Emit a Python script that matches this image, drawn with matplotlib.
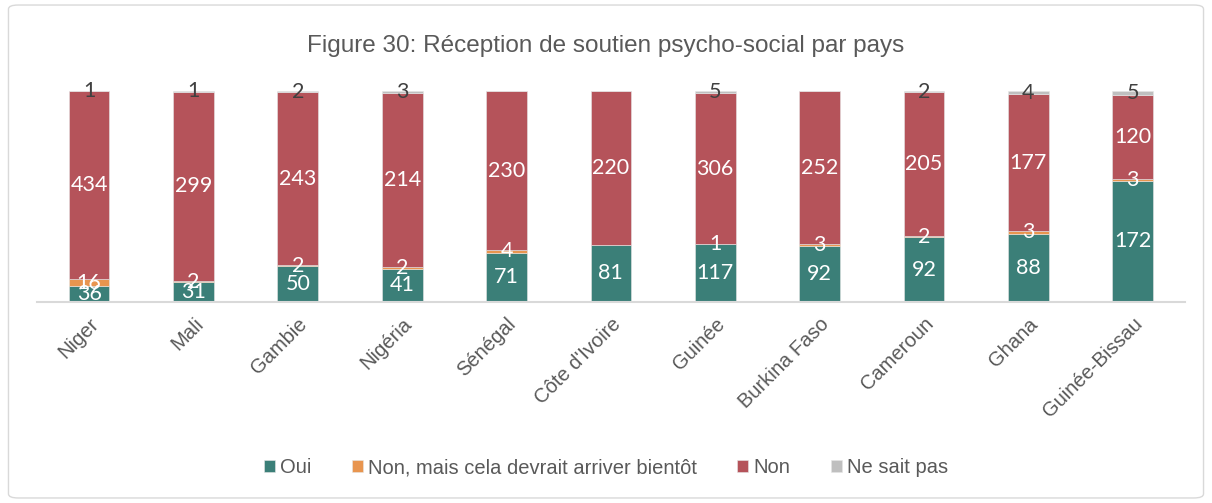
import numpy as np
import matplotlib.pyplot as plt
from matplotlib.patches import FancyBboxPatch

pays = ["Niger", "Mali", "Gambie", "Nigéria", "Sénégal", "Côte d'Ivoire",
        "Guinée", "Burkina Faso", "Cameroun", "Ghana", "Guinée-Bissau"]
oui = [36, 31, 50, 41, 71, 81, 117, 92, 92, 88, 172]
bientot = [16, 2, 2, 2, 4, 0, 1, 3, 2, 3, 3]
non = [434, 299, 243, 214, 230, 220, 306, 252, 205, 177, 120]
nsp = [1, 1, 2, 3, 0, 0, 5, 0, 2, 4, 5]

series = [("Oui", oui, "#3b7f78", "white"),
          ("Non, mais cela devrait arriver bientôt", bientot, "#e8954f", "white"),
          ("Non", non, "#b5535a", "white"),
          ("Ne sait pas", nsp, "#bfbfbf", "#404040")]

total = np.array(oui) + np.array(bientot) + np.array(non) + np.array(nsp)
x = np.arange(len(pays))

fig = plt.figure(figsize=(12.12, 5.03), dpi=100)
ax = fig.add_axes([0.0305, 0.400, 0.947, 0.419])

fig.patches.append(FancyBboxPatch((0.007, 0.01), 0.986, 0.98, boxstyle="round,pad=0,rounding_size=0.008",
                                  transform=fig.transFigure, fc="white", ec="#d9d9d9", lw=1, zorder=-1))

bottom = np.zeros(len(pays))
for nom, vals, col, tcol in series:
    v = np.array(vals)
    pct = v / total
    ax.bar(x, pct, 0.39, bottom=bottom, color=col, label=nom, edgecolor="#e6e6e6", linewidth=0.4)
    for i in range(len(pays)):
        if v[i] > 0:
            ax.text(x[i], bottom[i] + pct[i] / 2, str(v[i]), ha="center", va="center",
                    color=tcol, fontsize=15.5, family="Lato")
    bottom += pct

ax.set_xlim(-0.5, len(pays) - 0.5)
ax.set_ylim(0, 1)
ax.set_yticks([])
for s in ["top", "right", "left"]:
    ax.spines[s].set_visible(False)
ax.spines["bottom"].set_color("#d9d9d9")
ax.spines["bottom"].set_linewidth(1.5)
ax.set_xticks(x)
ax.set_xticklabels(pays, rotation=45, ha="right", rotation_mode="anchor",
                   fontsize=14.5, color="#595959", family="Liberation Sans")
ax.tick_params(axis="x", length=0, pad=9)
for lab in ax.get_xticklabels():
    lab.set_x(lab.get_position()[0])

fig.text(0.5, 0.908, "Figure 30: Réception de soutien psycho-social par pays", ha="center", va="center",
         fontsize=17.5, color="#595959", family="Liberation Sans")

fig.legend(loc="center", bbox_to_anchor=(0.5, 0.07), ncol=4, frameon=False,
           handlelength=0.55, handleheight=0.55, handletextpad=0.25, columnspacing=2.0,
           prop={"family": "Liberation Sans", "size": 14.5}, labelcolor="#595959")

fig.savefig("out.png", dpi=100)
